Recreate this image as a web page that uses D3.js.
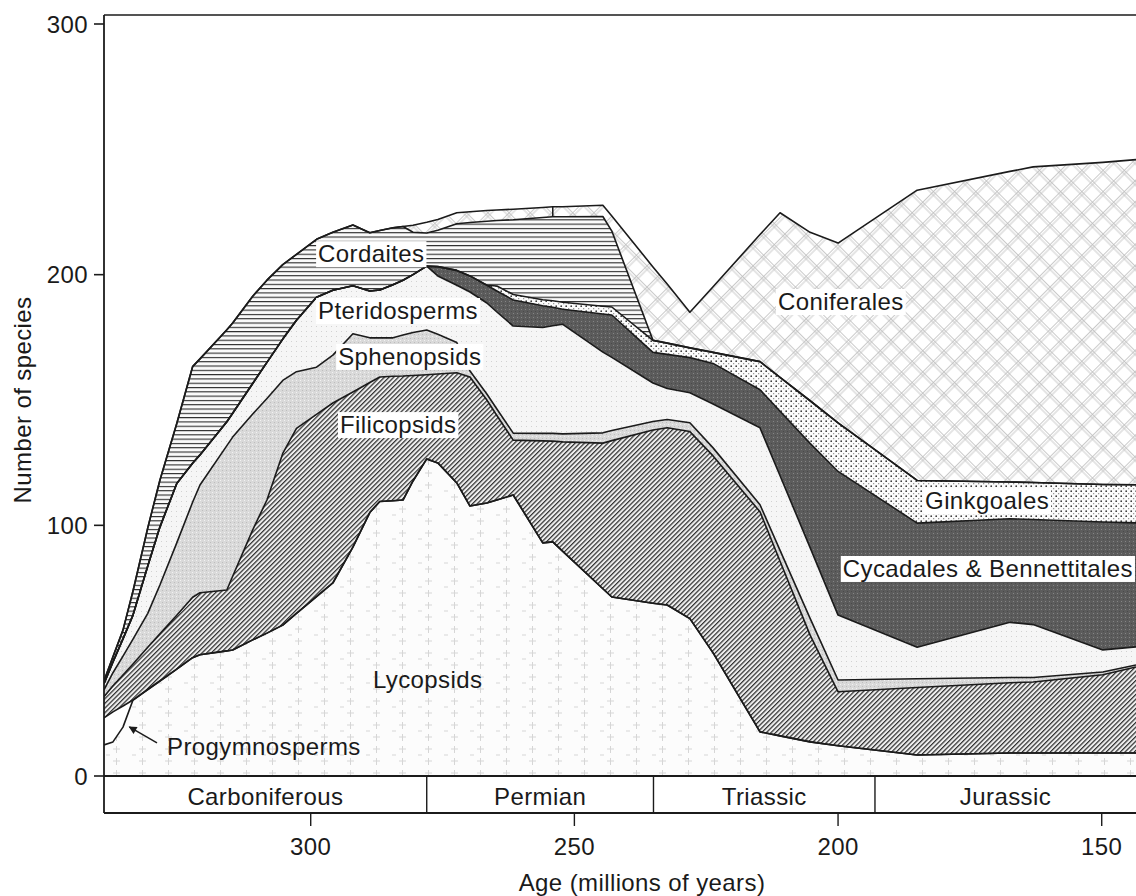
<!DOCTYPE html>
<html><head><meta charset="utf-8">
<script src="https://cdn.jsdelivr.net/npm/d3@7"></script>
<style>
html,body{margin:0;padding:0;background:#fff;}
svg{display:block;}
text{font-family:"Liberation Sans", Arial, Helvetica, sans-serif; fill:#1a1a1a; letter-spacing:0.4px;}
</style></head><body>
<svg id="chart" width="1136" height="896"></svg>
<script>
// ---------------- DATA ----------------
// Age in millions of years (sample points along the time axis)
const ages = [339.2, 337.5, 335.6, 333.7, 330.9, 328.6, 325.4, 322.4, 321.0, 315.9,
  314.8, 311.0, 308.3, 305.3, 302.7, 298.9, 295.8, 292.0, 288.8, 286.9,
  284.4, 282.5, 280.6, 278.0, 275.9, 272.3, 269.8, 266.6, 264.7, 261.6,
  256.0, 254.1, 252.2, 244.6, 242.9, 235.1, 232.4, 228.1, 223.7, 214.8,
  211.0, 205.3, 200.0, 185.0, 167.4, 163.0, 149.8, 143.5];

// Number of species per group (stacked bottom to top)
const lycopsids = [12.4, 13.6, 19.5, 30.3, 34.5, 37.9, 42.6, 47.2, 48.4, 49.9,
  50.3, 54.3, 57.0, 60.2, 64.9, 71.6, 77.0, 91.3, 105.1, 109.5,
  109.8, 110.1, 117.7, 126.5, 124.9, 116.9, 107.7, 108.9, 110.1, 112.1,
  93.0, 93.4, 89.6, 74.7, 71.4, 68.9, 68.2, 62.8, 49.1, 17.6,
  16.0, 13.6, 12.1, 8.4, 9.2, 9.2, 9.2, 9.2];
const progymnosperms = [10.8, 12.0, 8.4, 0, 0, 0, 0, 0, 0, 0,
  0, 0, 0, 0, 0, 0, 0, 0, 0, 0, 0, 0, 0, 0, 0, 0, 0, 0, 0, 0,
  0, 0, 0, 0, 0, 0, 0, 0, 0, 0, 0, 0, 0, 0, 0, 0, 0, 0];
const filicopsids = [8.4, 10.4, 12.4, 14.4, 16.9, 18.8, 21.5, 24.1, 24.7, 24.3,
  29.4, 43.9, 53.1, 68.5, 73.8, 72.7, 71.8, 61.9, 51.9, 49.7,
  49.7, 49.5, 42.1, 33.6, 35.5, 44.0, 51.5, 41.1, 33.7, 21.9,
  40.7, 40.2, 43.7, 58.1, 62.4, 69.1, 70.7, 74.6, 78.6, 87.8,
  69.7, 42.6, 21.5, 26.9, 28.0, 28.3, 31.2, 34.3];
const sphenopsids = [2.8, 5.2, 7.5, 9.9, 13.5, 19.5, 28.9, 37.9, 43.0, 57.6,
  55.5, 46.2, 40.5, 29.1, 22.6, 18.8, 19.1, 23.2, 17.8, 15.6,
  15.3, 16.3, 17.1, 17.8, 15.8, 12.0, 2.4, 2.4, 2.6, 2.8,
  3.0, 3.1, 3.2, 4.1, 4.0, 3.4, 3.3, 3.5, 3.2, 2.8,
  4.3, 6.7, 4.7, 3.5, 2.1, 1.8, 1.1, 0.8];
const pteridosperms = [2.4, 4.3, 6.9, 9.6, 18.9, 23.1, 23.7, 15.6, 12.0, 9.5,
  9.5, 12.2, 14.4, 16.5, 20.5, 27.9, 25.9, 19.2, 18.7, 19.1,
  21.2, 21.9, 23.1, 25.5, 23.3, 22.9, 31.5, 36.3, 38.7, 42.7,
  42.2, 42.9, 43.7, 32.2, 29.2, 15.4, 12.4, 12.0, 17.5, 30.7,
  29.8, 28.2, 25.9, 12.6, 22.0, 21.1, 8.8, 7.2];
const cycadales = [0, 0, 0, 0, 0, 0, 0, 0, 0, 0, 0, 0, 0, 0, 0, 0, 0, 0, 0, 0, 0, 0, 0, 0,
  3.7, 5.9, 6.4, 7.1, 8.4, 10.4, 8.7, 7.4, 6.0, 15.2,
  16.9, 12.2, 13.6, 14.0, 16.2, 15.2, 25.7, 41.6, 57.3, 49.5,
  41.3, 41.9, 51.0, 49.5];
const ginkgoales = [0, 0, 0, 0, 0, 0, 0, 0, 0, 0, 0, 0, 0, 0, 0, 0, 0, 0, 0, 0,
  0, 0, 0, 0, 0, 0, 0, 0,
  2.0, 2.2, 2.4, 2.6, 2.8, 3.1, 3.2, 4.8, 4.5, 3.9,
  4.4, 11.2, 13.5, 17.0, 19.4, 17.0, 14.7, 14.8, 15.0, 15.2];
const cordaites = [1.2, 2.1, 3.5, 9.6, 15.2, 18.7, 23.9, 38.5, 38.3, 36.7,
  36.0, 34.8, 32.8, 29.7, 26.3, 23.1, 23.1, 24.2, 23.2, 23.7,
  22.7, 21.4, 16.9, 13.2, 14.5, 18.6, 21.3, 25.5, 26.1, 29.8,
  32.8, 33.5, 34.1, 35.8, 30.3, 0, 0, 0, 0, 0, 0, 0, 0, 0, 0, 0, 0, 0];
const coniferales = [0, 0, 0, 0, 0, 0, 0, 0, 0, 0, 0, 0, 0, 0, 0, 0, 0, 0, 0, 0, 0, 0,
  2.8, 4.3, 4.3, 4.4, 4.3, 4.3, 4.2, 4.2, 4.0, 4.0, 4.0, 4.5, 6.0,
  29.3, 23.6, 14.2, 26.2, 50.7, 65.7, 67.2, 71.7, 115.8, 123.9, 125.9, 128.5, 129.7];

const seriesNames = ["Lycopsids", "Progymnosperms", "Filicopsids", "Sphenopsids",
  "Pteridosperms", "Cycadales", "Ginkgoales", "Cordaites", "Coniferales"];
const seriesValues = [lycopsids, progymnosperms, filicopsids, sphenopsids,
  pteridosperms, cycadales, ginkgoales, cordaites, coniferales];

// geological periods (boundaries in Ma)
const periodNames = ["Carboniferous", "Permian", "Triassic", "Jurassic"];
const periodBounds = [339.2, 278, 235, 193, 143.5];

const xTicks = [300, 250, 200, 150];
const yTicks = [0, 100, 200, 300];
const coniferDividerAge = 254.1;

// ---------------- CHART ----------------
const svg = d3.select("#chart");
const x = d3.scaleLinear().domain([339.2, 143.5]).range([104, 1136]);
const y = d3.scaleLinear().domain([0, 300]).range([776, 24]);
const topVal = 303.6;
const bandBottom = 813;

const defs = svg.append("defs");
function pat(id, w, h, transform) {
  const p = defs.append("pattern").attr("id", id).attr("patternUnits", "userSpaceOnUse")
    .attr("width", w).attr("height", h);
  if (transform) p.attr("patternTransform", transform);
  return p;
}
// Lycopsids: faint grid marks
let p = pat("pLyco", 26, 24);
p.append("rect").attr("width", 26).attr("height", 24).attr("fill", "#fcfcfc");
p.append("path").attr("d", "M9,5h7M12.5,2v7M9,17h7M12.5,14v7M2,11h4")
  .attr("stroke", "#d6d6d6").attr("stroke-width", 1).attr("fill", "none");
// Progymnosperms: plain white
p = pat("pProg", 4, 4);
p.append("rect").attr("width", 4).attr("height", 4).attr("fill", "#ffffff");
// Filicopsids: dense diagonal hatching
p = pat("pFili", 3.3, 3.3, "rotate(45)");
p.append("rect").attr("width", 3.3).attr("height", 3.3).attr("fill", "#efefef");
p.append("rect").attr("width", 1.25).attr("height", 3.3).attr("fill", "#333");
// Sphenopsids: light grey stipple
p = pat("pSphe", 4, 4);
p.append("rect").attr("width", 4).attr("height", 4).attr("fill", "#d9d9d9");
p.append("rect").attr("x", 0).attr("y", 0).attr("width", 1).attr("height", 1).attr("fill", "#f2f2f2");
p.append("rect").attr("x", 2).attr("y", 2).attr("width", 1).attr("height", 1).attr("fill", "#bdbdbd");
// Pteridosperms: near white fine stipple
p = pat("pPter", 5, 5);
p.append("rect").attr("width", 5).attr("height", 5).attr("fill", "#f6f6f6");
p.append("rect").attr("x", 1).attr("y", 1).attr("width", 1).attr("height", 1).attr("fill", "#d2d2d2");
// Cycadales: dark grey with speckles
p = pat("pCyca", 4, 4);
p.append("rect").attr("width", 4).attr("height", 4).attr("fill", "#5c5c5c");
p.append("rect").attr("x", 1).attr("y", 1).attr("width", 1).attr("height", 1).attr("fill", "#858585");
p.append("rect").attr("x", 3).attr("y", 3).attr("width", 1).attr("height", 1).attr("fill", "#4a4a4a");
// Ginkgoales: dots
p = pat("pGink", 5, 5);
p.append("rect").attr("width", 5).attr("height", 5).attr("fill", "#fbfbfb");
p.append("circle").attr("cx", 1.2).attr("cy", 1.2).attr("r", 0.85).attr("fill", "#333");
p.append("circle").attr("cx", 3.7).attr("cy", 3.7).attr("r", 0.6).attr("fill", "#777");
// Cordaites: horizontal lines
p = pat("pCord", 8, 4.3);
p.append("rect").attr("width", 8).attr("height", 4.3).attr("fill", "#fafafa");
p.append("rect").attr("y", 0).attr("width", 8).attr("height", 1.1).attr("fill", "#2a2a2a");
// Coniferales: diamond cross-hatch
p = pat("pConi", 15, 15, "rotate(45)");
p.append("rect").attr("width", 15).attr("height", 15).attr("fill", "#ffffff");
p.append("path").attr("d", "M0.5,0V15M3,0V15M0,0.5H15M0,3H15")
  .attr("stroke", "#bdbdbd").attr("stroke-width", 0.8);

const fills = {
  Lycopsids: "url(#pLyco)", Progymnosperms: "url(#pProg)", Filicopsids: "url(#pFili)",
  Sphenopsids: "url(#pSphe)", Pteridosperms: "url(#pPter)", Cycadales: "url(#pCyca)",
  Ginkgoales: "url(#pGink)", Cordaites: "url(#pCord)", Coniferales: "url(#pConi)"
};

defs.append("clipPath").attr("id", "plotClip").append("rect")
  .attr("x", 104).attr("y", y(topVal)).attr("width", 1136 - 104).attr("height", y(0) - y(topVal));

const rows = ages.map((a, i) => {
  const r = { age: a };
  seriesNames.forEach((k, j) => r[k] = seriesValues[j][i]);
  return r;
});
const stacked = d3.stack().keys(seriesNames)(rows);

const area = d3.area().x(d => x(d.data.age)).y0(d => y(d[0])).y1(d => y(d[1]));
const line = d3.line().x(d => x(d.data.age)).y(d => y(d[1]));

const plot = svg.append("g").attr("clip-path", "url(#plotClip)");
plot.selectAll("path.area").data(stacked).join("path")
  .attr("class", "area").attr("d", area).attr("fill", d => fills[d.key]).attr("stroke", "none");
plot.selectAll("path.edge").data(stacked).join("path")
  .attr("class", "edge").attr("d", line).attr("fill", "none")
  .attr("stroke", "#1b1b1b").attr("stroke-width", 1.6).attr("stroke-linejoin", "round");

// small divider inside the early conifer strip
const di = ages.indexOf(coniferDividerAge);
const coniSeries = stacked[seriesNames.indexOf("Coniferales")];
plot.append("line").attr("x1", x(coniferDividerAge)).attr("x2", x(coniferDividerAge))
  .attr("y1", y(coniSeries[di][0])).attr("y2", y(coniSeries[di][1]))
  .attr("stroke", "#1b1b1b").attr("stroke-width", 1.5);

// ---------------- AXES / FRAME ----------------
const axisColor = "#1b1b1b";
const frame = svg.append("g").attr("stroke", axisColor).attr("fill", "none");
frame.append("line").attr("x1", 104).attr("x2", 1136).attr("y1", y(topVal)).attr("y2", y(topVal)).attr("stroke-width", 1.6);
frame.append("line").attr("x1", 104).attr("x2", 104).attr("y1", y(topVal)).attr("y2", bandBottom).attr("stroke-width", 1.8);
frame.append("line").attr("x1", 104).attr("x2", 1136).attr("y1", y(0)).attr("y2", y(0)).attr("stroke-width", 2);
frame.append("line").attr("x1", 104).attr("x2", 1136).attr("y1", bandBottom).attr("y2", bandBottom).attr("stroke-width", 2);

// y ticks
yTicks.forEach(v => {
  frame.append("line").attr("x1", 94).attr("x2", 104).attr("y1", y(v)).attr("y2", y(v)).attr("stroke-width", 1.6);
  svg.append("text").attr("x", 88).attr("y", y(v) + 8.5).attr("text-anchor", "end")
    .attr("font-size", 24).text(v);
});
// x ticks
xTicks.forEach(v => {
  frame.append("line").attr("x1", x(v)).attr("x2", x(v)).attr("y1", bandBottom).attr("y2", bandBottom + 13).attr("stroke-width", 1.4);
  svg.append("text").attr("x", x(v)).attr("y", 855).attr("text-anchor", "middle")
    .attr("font-size", 24).text(v);
});

// period band
periodNames.forEach((name, i) => {
  const a0 = periodBounds[i], a1 = periodBounds[i + 1];
  if (i > 0) frame.append("line").attr("x1", x(a0)).attr("x2", x(a0)).attr("y1", y(0)).attr("y2", bandBottom).attr("stroke-width", 1.4);
  svg.append("text").attr("x", (x(a0) + Math.min(x(a1), 1136)) / 2).attr("y", 805)
    .attr("text-anchor", "middle").attr("font-size", 24).text(name);
});

svg.append("text").attr("x", 642).attr("y", 891).attr("text-anchor", "middle")
  .attr("font-size", 24).text("Age (millions of years)");
svg.append("text").attr("transform", "translate(31,400) rotate(-90)").attr("text-anchor", "middle")
  .attr("font-size", 24).text("Number of species");

// ---------------- LABELS ----------------
const labels = [
  { t: "Cordaites", a: 298.6, v: 205.0, box: true },
  { t: "Pteridosperms", a: 298.6, v: 182.3, box: true },
  { t: "Sphenopsids", a: 294.8, v: 164.0, box: true },
  { t: "Filicopsids", a: 294.45, v: 136.8, box: true },
  { t: "Lycopsids", a: 288.2, v: 35.1, box: false },
  { t: "Progymnosperms", a: 327.25, v: 8.4, box: false },
  { t: "Coniferales", a: 211.4, v: 185.9, box: true },
  { t: "Ginkgoales", a: 183.5, v: 106.5, box: true },
  { t: "Cycadales & Bennettitales", a: 199.1, v: 79.4, box: true }
];
const lg = svg.append("g");
labels.forEach(L => {
  const g = lg.append("g");
  const tx = g.append("text").attr("x", x(L.a)).attr("y", y(L.v)).attr("font-size", 24).text(L.t);
  if (L.box) {
    const b = tx.node().getBBox();
    g.insert("rect", "text").attr("x", b.x - 2).attr("y", b.y + 1).attr("width", b.width + 4)
      .attr("height", b.height - 1).attr("fill", "#fff");
  }
});

// arrow for Progymnosperms
defs.append("marker").attr("id", "arrowHead").attr("viewBox", "0 0 10 10")
  .attr("refX", 9).attr("refY", 5).attr("markerWidth", 11).attr("markerHeight", 8)
  .attr("orient", "auto").attr("markerUnits", "userSpaceOnUse")
  .append("path").attr("d", "M0,0L10,5L0,10z").attr("fill", axisColor);
svg.append("line").attr("x1", x(329.15)).attr("y1", y(13.2)).attr("x2", x(334.4)).attr("y2", y(19.6))
  .attr("stroke", axisColor).attr("stroke-width", 1.5).attr("marker-end", "url(#arrowHead)");
</script>
</body></html>
